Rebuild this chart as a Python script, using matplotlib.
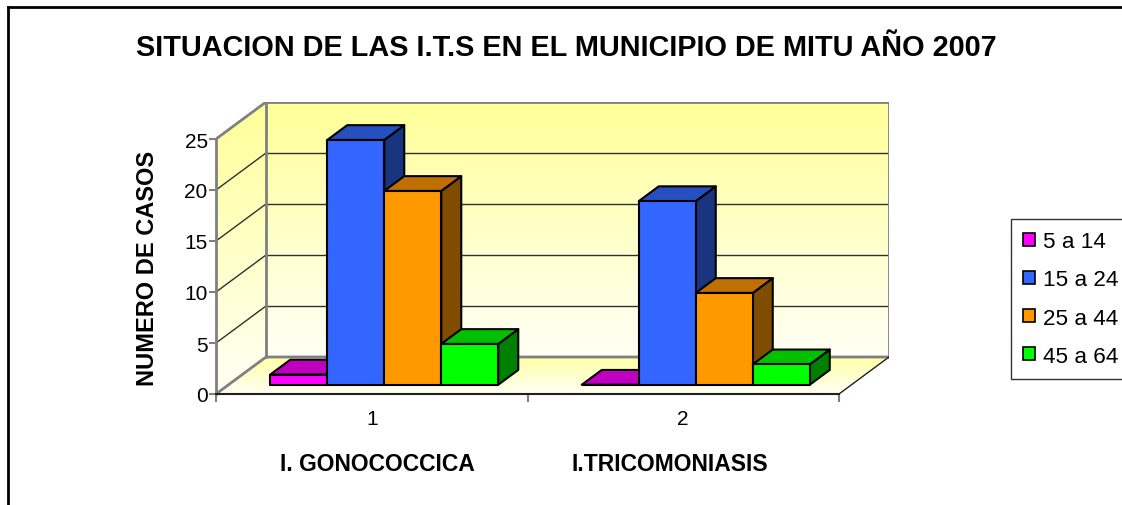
import numpy as np
import matplotlib.pyplot as plt
from matplotlib.patches import Polygon, Patch
from matplotlib.lines import Line2D
from matplotlib.colors import to_rgb

plt.rcParams["font.family"] = ["Liberation Sans", "DejaVu Sans"]

titulo = "SITUACION DE LAS I.T.S EN EL MUNICIPIO DE MITU AÑO 2007"
categorias = ["I. GONOCOCCICA", "I.TRICOMONIASIS"]
etiquetas_x = ["1", "2"]
grupos = ["5 a 14", "15 a 24", "25 a 44", "45 a 64"]
casos_5_14 = [1, 0]
casos_15_24 = [24, 18]
casos_25_44 = [19, 9]
casos_45_64 = [4, 2]
series = [casos_5_14, casos_15_24, casos_25_44, casos_45_64]

# colores: frente, tapa, lateral
colores = [
    ("#FF00FF", "#C000C0", "#800080"),
    ("#3366FF", "#2650C0", "#1A3580"),
    ("#FF9900", "#C07000", "#804C00"),
    ("#00FF00", "#00C000", "#008000"),
]

Y_MAX = 25
DX = 50 / 311.5      # profundidad del suelo en unidades x
DY = 37 / 10.2       # profundidad del suelo en unidades y
OFF = 0.25           # las barras empiezan a este fondo
BD = 0.4             # fondo de cada barra
W = 0.183            # ancho de barra

fig = plt.figure(figsize=(11.22, 5.06), dpi=100)
W_PX, H_PX = 1122, 506
left, right, bottom, top = 216, 216 + (2 + DX) * 311.5, 395, 395 - (Y_MAX + DY) * 10.2
ax = fig.add_axes([left / W_PX, 1 - bottom / H_PX, (right - left) / W_PX, (bottom - top) / H_PX])
ax.set_facecolor("none")


def degradado(ax, puntos, c_arriba, c_abajo, z):
    poly = Polygon(puntos, closed=True, facecolor="none", edgecolor="none")
    ax.add_patch(poly)
    xs = [p[0] for p in puntos]
    ys = [p[1] for p in puntos]
    a = np.array(to_rgb(c_arriba))
    b = np.array(to_rgb(c_abajo))
    t = np.linspace(0, 1, 100)[:, None]
    img = (a * (1 - t) + b * t)[:, None, :]
    im = ax.imshow(img, extent=(min(xs), max(xs), min(ys), max(ys)), aspect="auto",
                   origin="upper", zorder=z, interpolation="bilinear")
    im.set_clip_path(poly)


n = len(categorias)
# paredes y suelo
degradado(ax, [(DX, DY), (n + DX, DY), (n + DX, Y_MAX + DY), (DX, Y_MAX + DY)], "#FFFF99", "#FFFFF5", 0.5)
degradado(ax, [(0, 0), (DX, DY), (DX, Y_MAX + DY), (0, Y_MAX)], "#FFFF99", "#FFFFF5", 0.5)
degradado(ax, [(0, 0), (n, 0), (n + DX, DY), (DX, DY)], "#FFFFA8", "#FFFFF2", 0.5)

for v in range(5, Y_MAX, 5):
    ax.plot([DX, n + DX], [v + DY, v + DY], color="#303030", lw=1, zorder=1)
    ax.plot([0, DX], [v, v + DY], color="#303030", lw=1, zorder=1)

gris = "#808080"
ax.plot([DX, DX, n + DX, n + DX], [DY, Y_MAX + DY, Y_MAX + DY, DY], color=gris, lw=2, zorder=1.2)
ax.plot([0, DX, n + DX], [0, DY, DY], color=gris, lw=2, zorder=1.2)
ax.plot([0, DX], [Y_MAX, Y_MAX + DY], color=gris, lw=2, zorder=1.2)
ax.plot([n, n + DX], [0, DY], color="#202020", lw=1, zorder=1.2)

# barras
z = 3
for g in range(n):
    for i, serie in enumerate(series):
        v = serie[g]
        x0 = g + 0.5 - 2 * W + i * W + OFF * DX
        y0 = OFF * DY
        ddx, ddy = BD * DX, BD * DY
        frente, tapa, lado = colores[i]
        ax.add_patch(Polygon([(x0 + W, y0), (x0 + W + ddx, y0 + ddy), (x0 + W + ddx, y0 + v + ddy), (x0 + W, y0 + v)],
                             facecolor=lado, edgecolor="black", lw=1.5, zorder=z, joinstyle="round"))
        ax.add_patch(Polygon([(x0, y0 + v), (x0 + W, y0 + v), (x0 + W + ddx, y0 + v + ddy), (x0 + ddx, y0 + v + ddy)],
                             facecolor=tapa, edgecolor="black", lw=1.5, zorder=z, joinstyle="round"))
        ax.add_patch(Polygon([(x0, y0), (x0 + W, y0), (x0 + W, y0 + v), (x0, y0 + v)],
                             facecolor=frente, edgecolor="black", lw=1.5, zorder=z, joinstyle="round"))
        z += 0.01

ax.set_xlim(0, n + DX)
ax.set_ylim(0, Y_MAX + DY)

for lado_ax in ["top", "right"]:
    ax.spines[lado_ax].set_visible(False)
ax.spines["left"].set_bounds(0, Y_MAX)
ax.spines["left"].set_color(gris)
ax.spines["left"].set_linewidth(2)
ax.spines["bottom"].set_bounds(0, n)
ax.spines["bottom"].set_color("#202020")
ax.spines["bottom"].set_linewidth(1.5)

ax.set_yticks(range(0, Y_MAX + 1, 5))
ax.tick_params(axis="y", length=5, width=1.5, color=gris, labelsize=15, pad=1)
ax.set_xticks(range(n + 1))
ax.set_xticklabels([])
ax.tick_params(axis="x", which="major", length=6, width=1.5, color=gris)
ax.set_xticks([g + 0.5 for g in range(n)], minor=True)
ax.set_xticklabels(etiquetas_x, minor=True)
ax.tick_params(axis="x", which="minor", length=0, labelsize=15, pad=11)

fig.text(566 / W_PX, 1 - 48 / H_PX, titulo, ha="center", va="center", fontsize=20.8, fontweight="bold")
fig.text(148 / W_PX, 1 - 268 / H_PX, "NUMERO DE CASOS", ha="center", va="center", rotation=90,
         fontsize=17, fontweight="bold")
for x_px, cat in zip([377, 670], categorias):
    fig.text(x_px / W_PX, 1 - 465 / H_PX, cat, ha="center", va="center", fontsize=16.5, fontweight="bold")

manejadores = [Patch(facecolor=c[0], edgecolor="black", lw=1.2) for c in colores]
ley = fig.legend(manejadores, grupos, loc="upper left", bbox_to_anchor=(1011 / W_PX, 1 - 220 / H_PX),
                 fontsize=16.2, frameon=True, fancybox=False, borderaxespad=0,
                 handlelength=0.53, handleheight=0.53, handletextpad=0.33, labelspacing=0.76,
                 borderpad=0.55)
ley.get_frame().set_edgecolor("black")
ley.get_frame().set_linewidth(1)

# marco exterior
fig.add_artist(Line2D([8 / W_PX, 8 / W_PX], [0, 1 - 8 / H_PX], color="black", lw=2))
fig.add_artist(Line2D([8 / W_PX, 1], [1 - 8 / H_PX, 1 - 8 / H_PX], color="black", lw=2))

fig.savefig("out.png", dpi=100)
